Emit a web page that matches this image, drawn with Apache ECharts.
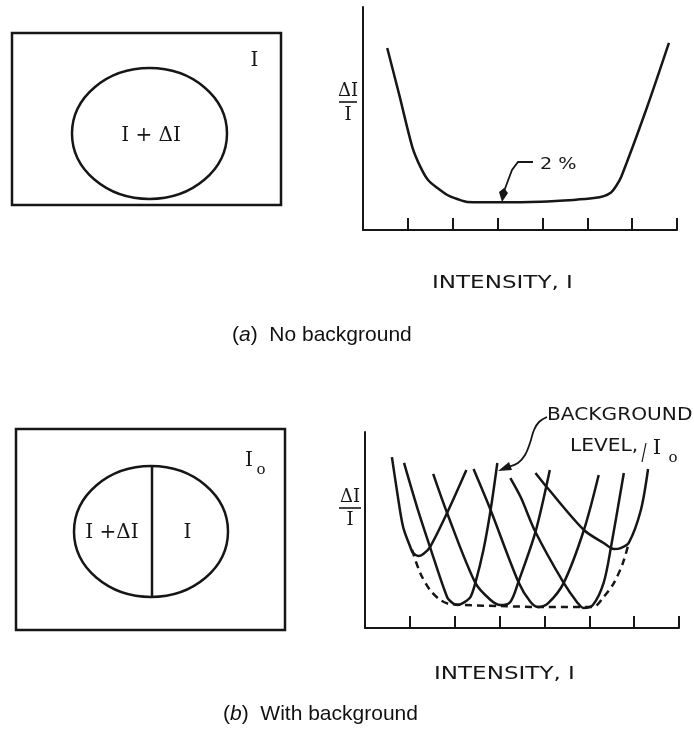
<!DOCTYPE html>
<html><head><meta charset="utf-8">
<script src="https://cdn.jsdelivr.net/npm/echarts@6/dist/echarts.min.js"></script>
<style>html,body{margin:0;padding:0;background:#fff}#c{width:694px;height:729px}</style>
</head><body><div id="c"></div>
<script>
// ---- data (x: intensity units, y: ΔI/I units) ----
const tickInterval = 1;
const xMax = 7;
const yMax = 10;

// (a) No background: Weber curve
const curveA = [[0.54,8.16],[0.81,6.05],[1.10,3.72],[1.28,2.83],[1.45,2.24],[1.66,1.88],[1.88,1.57],[2.10,1.39],[2.33,1.26],[3.06,1.24],[3.96,1.27],[4.70,1.35],[5.15,1.43],[5.37,1.52],[5.53,1.68],[5.64,1.96],[5.76,2.40],[6.31,5.38],[6.82,8.39]];
const pctLabel = '2 %';

// (b) With background: family of curves
const curveB1 = [[0.60,8.72],[0.72,6.89],[0.85,5.15],[1.01,4.13],[1.07,3.83],[1.19,3.67],[1.30,3.78],[1.45,4.13],[1.83,5.87],[2.26,8.06]];
const curveB2 = [[0.87,8.42],[1.16,6.17],[1.45,4.13],[1.83,1.58],[1.95,1.28],[2.06,1.17],[2.19,1.28],[2.35,1.58],[2.46,2.30],[2.64,3.98],[2.80,6.02],[2.95,8.42]];
const curveB3 = [[1.52,7.86],[1.83,5.87],[2.46,2.30],[2.80,1.43],[3.02,1.17],[3.24,1.33],[3.42,2.35],[3.80,4.90],[4.12,8.06]];
const curveB4 = [[2.42,8.11],[2.80,6.02],[3.42,2.35],[3.69,1.33],[3.87,1.07],[4.09,1.28],[4.43,2.30],[4.88,5.00],[5.21,7.81]];
const curveB5 = [[3.24,7.65],[3.47,6.68],[3.80,4.90],[4.43,2.30],[4.74,1.28],[4.87,1.02],[5.08,1.17],[5.32,2.30],[5.48,4.08],[5.77,7.91]];
const curveB6 = [[3.80,7.91],[4.07,7.14],[4.88,5.00],[5.32,4.34],[5.55,4.03],[5.70,4.08],[5.88,4.34],[6.15,6.02],[6.31,8.11]];
const envelopeB = [[1.05,3.98],[1.23,2.81],[1.45,1.94],[1.68,1.43],[1.90,1.22],[3.02,1.12],[4.03,1.07],[5.08,1.07],[5.32,1.58],[5.55,2.30],[5.75,3.32],[5.88,4.34]];

const xTitle = 'INTENSITY, I';

// ---- chart ----
const INK = '#161616';
const chart = echarts.init(document.getElementById('c'));

function xAx(gi){
  return {type:'value', gridIndex:gi, min:0, max:xMax, interval:tickInterval,
    axisLine:{show:true, lineStyle:{color:INK, width:2}},
    axisTick:{show:true, inside:true, length:12, lineStyle:{color:INK, width:2}},
    axisLabel:{show:false}, splitLine:{show:false}};
}
function yAx(gi){
  return {type:'value', gridIndex:gi, min:0, max:yMax,
    axisLine:{show:true, onZero:false, lineStyle:{color:INK, width:2}},
    axisTick:{show:false}, axisLabel:{show:false}, splitLine:{show:false}};
}
function curve(data, gi, dashed){
  return {type:'line', xAxisIndex:gi, yAxisIndex:gi, data:data, smooth:0.3,
    symbol:'none', silent:true, animation:false, clip:false,
    lineStyle:{color:INK, width:2.5, type: dashed ? [7,5] : 'solid'}};
}
const serif = '"DejaVu Serif", "Liberation Serif", serif';
const sans = '"DejaVu Sans", sans-serif';
const arial = '"Liberation Sans", Arial, sans-serif';
function txt(x, y, text, size, family, align, sx){
  return {type:'text', x:x, y:y, scaleX: sx || 1, silent:true,
    style:{text:text, font: size+'px '+family, fontSize:size, fontFamily:family, fill:INK,
      textAlign:align||'center', align:align||'center', textVerticalAlign:'middle', verticalAlign:'middle'}};
}
function caption(x, y, letter, rest){
  return {type:'text', x:x, y:y, silent:true, style:{text:'({i|'+letter+'})  '+rest, font:'21px '+arial, fontSize:21, fontFamily:arial, fill:'#111',
    textAlign:'left', align:'left', textVerticalAlign:'middle', verticalAlign:'middle',
    rich:{i:{fontStyle:'italic', fontSize:21, fontFamily:arial, fill:'#111'}}}};
}
const stroke = {fill:'none', stroke:INK, lineWidth:2.5};
const graphics = [
  // (a) stimulus
  {type:'rect', shape:{x:12, y:33, width:269, height:172}, style:stroke},
  {type:'ellipse', shape:{cx:149.5, cy:133.5, rx:77.5, ry:65.5}, style:stroke},
  txt(254.5, 61, 'I', 20, serif),
  txt(151, 136, 'I + ΔI', 20, serif),
  // (a) y label fraction
  txt(348, 91, 'ΔI', 18, serif),
  {type:'line', shape:{x1:339, y1:102, x2:357, y2:102}, style:{stroke:INK, lineWidth:1.6}},
  txt(348, 115, 'I', 18, serif),
  // 2% leader
  {type:'polyline', shape:{points:[[503,194],[512,170],[518,162],[533,162]]}, style:{fill:'none', stroke:INK, lineWidth:1.8}},
  {type:'polygon', shape:{points:[[502,202],[499,192],[504,188],[508,193]]}, style:{fill:INK}},
  txt(540, 165, pctLabel, 16, sans, 'left', 1.2),
  txt(432, 283, xTitle, 18, sans, 'left', 1.28),
  caption(232, 335, 'a', 'No background'),

  // (b) stimulus
  {type:'rect', shape:{x:16, y:429, width:269, height:201}, style:stroke},
  {type:'ellipse', shape:{cx:151, cy:531.5, rx:77, ry:65.5}, style:stroke},
  {type:'line', shape:{x1:152, y1:466, x2:152, y2:597}, style:{stroke:INK, lineWidth:2.5}},
  txt(112, 533, 'I +ΔI', 20, serif),
  txt(187.5, 533, 'I', 20, serif),
  txt(249, 461, 'I', 20, serif),
  txt(261, 470, 'o', 15, serif),
  // (b) y label fraction
  txt(350, 497, 'ΔI', 18, serif),
  {type:'line', shape:{x1:339, y1:508, x2:361, y2:508}, style:{stroke:INK, lineWidth:1.6}},
  txt(350, 520, 'I', 18, serif),
  // background level annotation
  {type:'polyline', shape:{smooth:0.4, points:[[547,417],[539,422],[534,430],[530,443],[525,455],[518,463],[508,467]]}, style:{fill:'none', stroke:INK, lineWidth:1.8}},
  {type:'polygon', shape:{points:[[498,471],[509,462],[512,470]]}, style:{fill:INK}},
  txt(547, 415, 'BACKGROUND', 18, sans, 'left', 1.12),
  txt(570, 446, 'LEVEL,', 18, sans, 'left', 1.12),
  {type:'line', shape:{x1:646, y1:443, x2:642, y2:462}, style:{stroke:INK, lineWidth:1.2}},
  txt(657, 449, 'I', 21, serif),
  txt(673, 458, 'o', 15, serif),
  txt(434, 674, xTitle, 18, sans, 'left', 1.28),
  caption(223, 714, 'b', 'With background')
];

chart.setOption({
  animation:false,
  backgroundColor:'#fff',
  grid:[
    {left:363, top:7, width:314, height:223},
    {left:365, top:432, width:314, height:196}
  ],
  xAxis:[xAx(0), xAx(1)],
  yAxis:[yAx(0), yAx(1)],
  series:[
    curve(curveA, 0),
    curve(curveB1, 1), curve(curveB2, 1), curve(curveB3, 1),
    curve(curveB4, 1), curve(curveB5, 1), curve(curveB6, 1),
    curve(envelopeB, 1, true)
  ],
  graphic: graphics
});
</script></body></html>
